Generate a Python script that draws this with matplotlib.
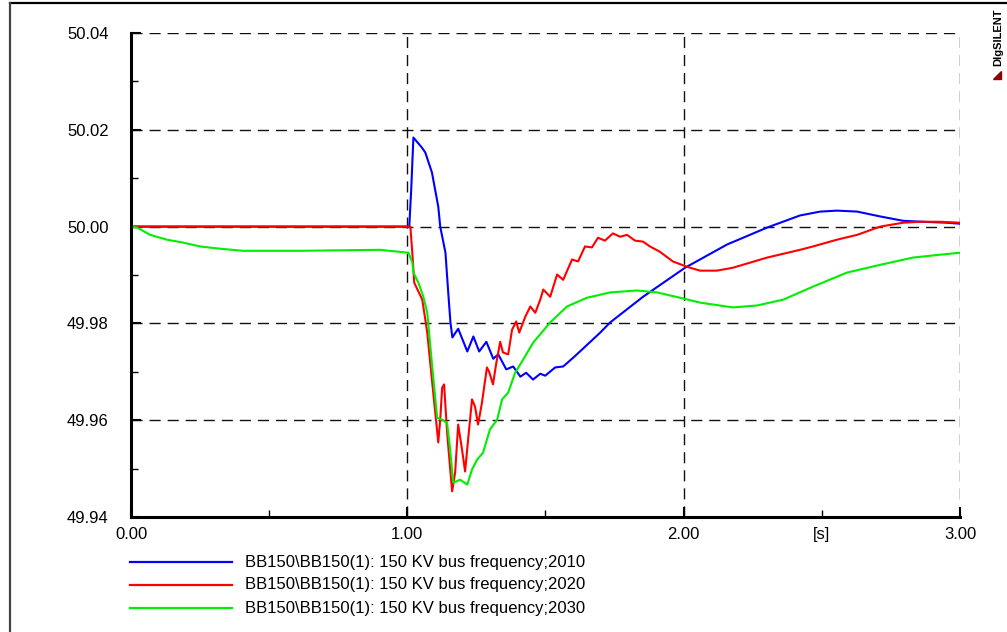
import numpy as np
import matplotlib.pyplot as plt
from matplotlib.lines import Line2D
from matplotlib.patches import Polygon
from matplotlib.ticker import FixedLocator, FixedFormatter

plt.rcParams['font.family'] = ['Liberation Sans', 'DejaVu Sans']

# time [s] / frequency [Hz]
t_2010 = [0.0, 1.000, 1.007, 1.014, 1.022, 1.053, 1.065, 1.089, 1.112, 1.119, 1.138, 1.148,
          1.156, 1.163, 1.184, 1.217, 1.239, 1.260, 1.286, 1.311, 1.329, 1.358, 1.383,
          1.409, 1.430, 1.455, 1.481, 1.499, 1.535, 1.564, 1.600, 1.636, 1.698, 1.734,
          1.853, 2.005, 2.157, 2.302, 2.421, 2.494, 2.555, 2.628, 2.711, 2.794, 2.866,
          2.953, 3.000]
f_2010 = [50.0000, 50.0000, 50.0000, 50.0076, 50.0184, 50.0163, 50.0153, 50.0112, 50.0041,
          50.0000, 49.9946, 49.9864, 49.9802, 49.9771, 49.9789, 49.9742, 49.9773, 49.9742,
          49.9762, 49.9727, 49.9736, 49.9705, 49.9711, 49.9690, 49.9698, 49.9684, 49.9696,
          49.9692, 49.9709, 49.9711, 49.9729, 49.9748, 49.9781, 49.9802, 49.9855, 49.9915,
          49.9963, 49.9998, 50.0023, 50.0031, 50.0033, 50.0031, 50.0021, 50.0012, 50.0010,
          50.0008, 50.0006]

t_2020 = [0.0, 1.000, 1.011, 1.018, 1.025, 1.054, 1.065, 1.072, 1.090, 1.112, 1.119, 1.126,
          1.133, 1.144, 1.162, 1.173, 1.184, 1.198, 1.209, 1.220, 1.234, 1.245, 1.256,
          1.270, 1.288, 1.296, 1.310, 1.321, 1.336, 1.346, 1.365, 1.379, 1.394, 1.405,
          1.427, 1.445, 1.463, 1.481, 1.492, 1.517, 1.542, 1.564, 1.596, 1.618, 1.643,
          1.668, 1.690, 1.715, 1.744, 1.770, 1.795, 1.824, 1.853, 1.878, 1.914, 1.961,
          2.012, 2.059, 2.120, 2.178, 2.302, 2.421, 2.468, 2.555, 2.628, 2.711, 2.794,
          2.856, 2.928, 3.000]
f_2020 = [50.0000, 50.0000, 50.0000, 49.9946, 49.9884, 49.9849, 49.9808, 49.9781, 49.9678,
          49.9554, 49.9601, 49.9667, 49.9674, 49.9574, 49.9453, 49.9492, 49.9591, 49.9539,
          49.9494, 49.9560, 49.9643, 49.9628, 49.9591, 49.9636, 49.9709, 49.9700, 49.9674,
          49.9715, 49.9762, 49.9740, 49.9736, 49.9787, 49.9804, 49.9781, 49.9814, 49.9835,
          49.9822, 49.9849, 49.9870, 49.9855, 49.9901, 49.9890, 49.9932, 49.9928, 49.9959,
          49.9957, 49.9977, 49.9971, 49.9986, 49.9979, 49.9983, 49.9971, 49.9969, 49.9959,
          49.9948, 49.9928, 49.9917, 49.9909, 49.9909, 49.9915, 49.9936, 49.9952, 49.9959,
          49.9973, 49.9983, 50.0000, 50.0008, 50.0010, 50.0010, 50.0008]

t_2030 = [0.0, 0.022, 0.069, 0.130, 0.188, 0.250, 0.311, 0.405, 0.612, 0.901, 1.004, 1.018,
          1.022, 1.040, 1.058, 1.072, 1.090, 1.108, 1.126, 1.144, 1.155, 1.166, 1.191,
          1.217, 1.234, 1.252, 1.274, 1.299, 1.325, 1.343, 1.365, 1.390, 1.419, 1.455,
          1.517, 1.578, 1.650, 1.734, 1.831, 1.904, 1.987, 2.059, 2.178, 2.265, 2.360,
          2.468, 2.591, 2.711, 2.830, 2.928, 3.000]
f_2030 = [50.0000, 49.9998, 49.9983, 49.9973, 49.9967, 49.9959, 49.9955, 49.9950, 49.9950,
          49.9952, 49.9946, 49.9926, 49.9905, 49.9884, 49.9855, 49.9822, 49.9711, 49.9605,
          49.9601, 49.9594, 49.9539, 49.9471, 49.9477, 49.9467, 49.9498, 49.9518, 49.9533,
          49.9581, 49.9601, 49.9643, 49.9657, 49.9698, 49.9725, 49.9760, 49.9802, 49.9835,
          49.9853, 49.9864, 49.9868, 49.9864, 49.9853, 49.9843, 49.9833, 49.9837, 49.9849,
          49.9876, 49.9905, 49.9921, 49.9936, 49.9942, 49.9946]

labels = ['BB150\\BB150(1): 150 KV bus frequency;2010',
          'BB150\\BB150(1): 150 KV bus frequency;2020',
          'BB150\\BB150(1): 150 KV bus frequency;2030']
colors = ['#0000ff', '#ff0000', '#00ee00']

y_ticks = [49.94, 49.96, 49.98, 50.00, 50.02, 50.04]
x_ticks = [0.0, 1.0, 2.0, 3.0]
x_labels = ['0.00', '1.00', '2.00', '3.00']

W, H = 1007, 632
fig = plt.figure(figsize=(W / 100, H / 100), dpi=100)
ax = fig.add_axes([131 / W, 1 - 517 / H, 829 / W, 484 / H])

series = [(t_2010, f_2010), (t_2020, f_2020), (t_2030, f_2030)]
for (t, f), c in zip(series, colors):
    ax.plot(t, f, color=c, lw=1.5, solid_joinstyle='round')

ax.set_xlim(0, 3)
ax.set_ylim(49.94, 50.04)

ax.set_yticks(y_ticks)
ax.set_yticklabels(['%.2f' % v for v in y_ticks])
ax.yaxis.set_minor_locator(FixedLocator([49.95, 49.97, 49.99, 50.01, 50.03]))
ax.set_xticks(x_ticks)
ax.set_xticklabels(x_labels)
ax.xaxis.set_minor_locator(FixedLocator([0.5, 1.5, 2.5]))
ax.xaxis.set_minor_formatter(FixedFormatter(['', '', '[s]']))

ax.tick_params(which='both', direction='in', labelsize=12, color='black')
ax.tick_params(axis='y', which='major', length=7, width=1.5, pad=16)
ax.tick_params(axis='y', which='minor', length=5, width=1)
ax.tick_params(axis='x', which='major', length=7, width=1.5, pad=7)
ax.tick_params(axis='x', which='minor', length=5, width=1, pad=7, labelsize=12)

ax.grid(True, which='major', color='#111111', lw=1.0, linestyle=(0, (8, 5)))
for s in ['top', 'right']:
    ax.spines[s].set_visible(False)
for s in ['left', 'bottom']:
    ax.spines[s].set_linewidth(2.2)
ax.set_axisbelow(True)

# legend drawn below the plot
for i, (lab, c) in enumerate(zip(labels, colors)):
    y = 1 - (562 + 23 * i) / H
    fig.add_artist(Line2D([130 / W, 232 / W], [y, y], color=c, lw=1.6))
    fig.text(245 / W, y, lab, fontsize=12, va='center', ha='left')

# page frame
fig.add_artist(Line2D([10 / W, 1], [1 - 3 / H, 1 - 3 / H], color='black', lw=1.6))
fig.add_artist(Line2D([10 / W, 10 / W], [0, 1 - 3 / H], color='#444444', lw=1.6))

# DIgSILENT mark
fig.text(998 / W, 1 - 8 / H, 'DIgSILENT', rotation=90, fontsize=8, fontweight='bold',
         ha='center', va='top')
fig.add_artist(Polygon([[993 / W, 1 - 79 / H], [1001 / W, 1 - 79 / H], [1001 / W, 1 - 71 / H]],
                       closed=True, color='#8b0000', transform=fig.transFigure))

fig.savefig('out.png', dpi=100)
